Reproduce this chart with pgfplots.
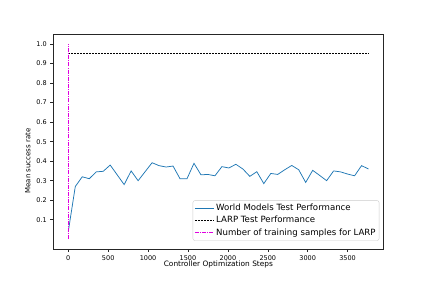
\documentclass[border=0pt]{standalone}
\usepackage{pgfplots}
\pgfplotsset{compat=1.18}
\usepackage{fontspec}
\setmainfont{DejaVu Sans}
\definecolor{mplblue}{HTML}{1F77B4}
\definecolor{mplmag}{HTML}{E000E0}
\begin{document}
\begin{tikzpicture}
\begin{axis}[
  scale only axis, width=330.2pt, height=214.7pt,
  xmin=-188, xmax=3950, ymin=-0.05, ymax=1.05,
  axis line style={black!85, line width=0.6pt},
  xtick={0,500,1000,1500,2000,2500,3000,3500},
  xticklabels={0,500,1000,1500,2000,2500,3000,3500},
  ytick={0.1,0.2,0.3,0.4,0.5,0.6,0.7,0.8,0.9,1.0},
  yticklabels={0.1,0.2,0.3,0.4,0.5,0.6,0.7,0.8,0.9,1.0},
  tick pos=left, tick align=outside, major tick length=3pt,
  tick style={black!85, line width=0.5pt},
  ticklabel style={font=\fontsize{6.5}{7.5}\selectfont},
  xlabel={Controller Optimization Steps},
  ylabel={Mean success rate},
  xlabel style={font=\fontsize{7.4}{8.5}\selectfont, at={(axis description cs:0.5,0)}, anchor=base, yshift=-17.7pt},
  ylabel style={font=\fontsize{7}{8}\selectfont, at={(axis description cs:-0.0772,0.41)}, anchor=center},
  legend cell align=left,
  legend style={at={(rel axis cs:1,0)}, anchor=south east, xshift=-4.2pt, yshift=8.3pt,
    draw=black!20, rounded corners=2pt, fill=white, fill opacity=0.8, text opacity=1,
    font=\fontsize{8.6}{10}\selectfont, inner sep=1.5pt,
    nodes={inner sep=2pt, text height=6.5pt, text depth=1.8pt},
    row sep=0pt},
  legend image code/.code={\draw[#1] (0pt,0pt) -- (19pt,0pt);},
]
\addplot[mplblue, line width=0.75pt] coordinates {
(0,0.04) (87.5,0.27) (175,0.32) (262.5,0.31) (350,0.345) (437.5,0.348)
(525,0.38) (612.5,0.33) (700,0.28) (787.5,0.35) (875,0.30) (962.5,0.346)
(1050,0.392) (1137.5,0.377) (1225,0.37) (1312.5,0.375) (1400,0.31) (1487.5,0.31)
(1575,0.389) (1662.5,0.33) (1750,0.332) (1837.5,0.325) (1925,0.372) (2012.5,0.365)
(2100,0.384) (2187.5,0.36) (2275,0.322) (2362.5,0.346) (2450,0.285) (2537.5,0.337)
(2625,0.332) (2712.5,0.356) (2800,0.378) (2887.5,0.356) (2975,0.291) (3062.5,0.353)
(3150,0.327) (3237.5,0.30) (3325,0.35) (3412.5,0.345) (3500,0.334) (3587.5,0.325)
(3675,0.377) (3762.5,0.36)
};
\addlegendentry{World Models Test Performance}
\addplot[black, line width=0.7pt, dash pattern=on 2pt off 1pt] coordinates {(0,0.95) (3762.5,0.95)};
\addlegendentry{LARP Test Performance}
\addplot[mplmag, line width=0.7pt, dash pattern=on 4pt off 1.2pt on 0.8pt off 1.2pt] coordinates {(0,0) (0,1)};
\addlegendentry{Number of training samples for LARP}
\end{axis}
\path (current axis.south west) ++(-53.3pt,-36pt);
\path (current axis.north east) ++(43.5pt,34.3pt);
\end{tikzpicture}
\end{document}
